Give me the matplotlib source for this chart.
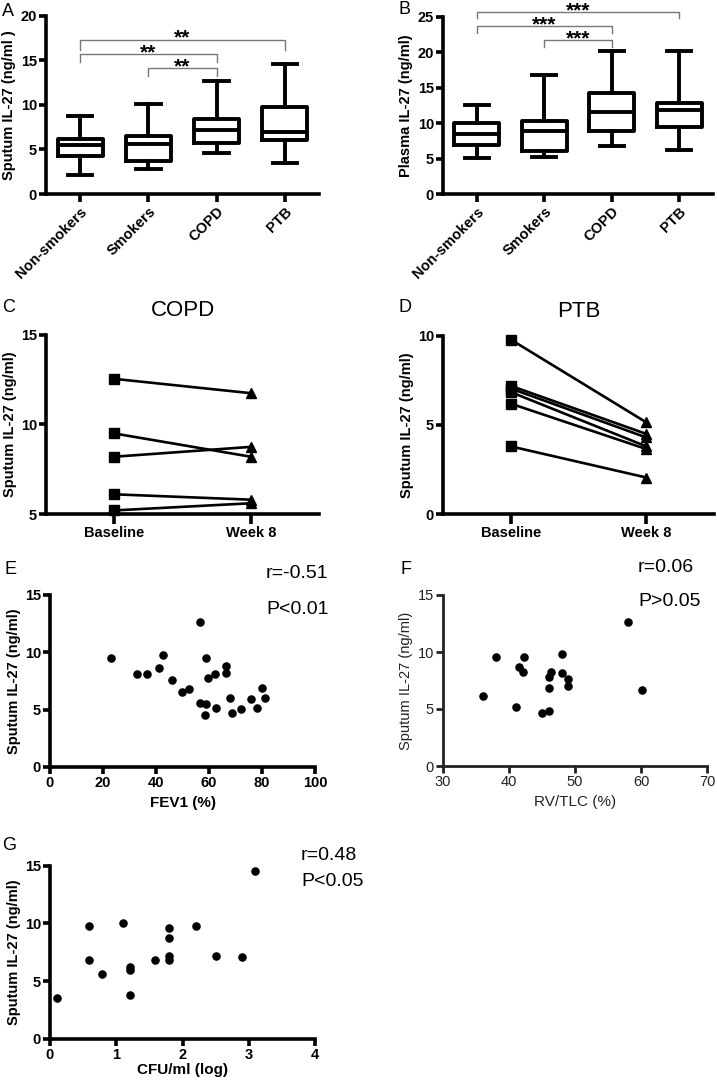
import matplotlib
matplotlib.use("Agg")
import matplotlib.pyplot as plt

plt.rcParams['font.family'] = ['Liberation Sans', 'DejaVu Sans']

# ---------------- data ----------------
groups = ["Non-smokers", "Smokers", "COPD", "PTB"]

# Panel A: sputum IL-27 box stats
a_whislo = [2.1, 2.8, 4.6, 3.5]
a_q1 = [4.3, 3.75, 5.7, 6.1]
a_med = [5.45, 5.6, 7.2, 7.0]
a_q3 = [6.15, 6.5, 8.45, 9.75]
a_whishi = [8.8, 10.1, 12.65, 14.6]

# Panel B: plasma IL-27 box stats
b_whislo = [5.1, 5.2, 6.8, 6.2]
b_q1 = [7.0, 6.15, 8.95, 9.5]
b_med = [8.55, 8.85, 11.6, 11.85]
b_q3 = [10.05, 10.35, 14.25, 12.9]
b_whishi = [12.6, 16.8, 20.15, 20.15]

# significance brackets (group index pairs, bar height, drop heights, label)
a_sig_pairs = [(0, 3), (0, 2), (1, 2)]
a_sig_y = [17.3, 15.7, 14.1]
a_sig_drop = [1.1, 0.85, 0.85]
a_sig_txt = ["**", "**", "**"]

b_sig_pairs = [(0, 3), (0, 2), (1, 2)]
b_sig_y = [25.65, 23.7, 21.7]
b_sig_drop = [0.9, 1.05, 0.95]
b_sig_txt = ["***", "***", "***"]

time_labels = ["Baseline", "Week 8"]
# Panel C: COPD baseline vs week 8
c_baseline = [12.55, 9.5, 8.2, 6.1, 5.2]
c_week8 = [11.75, 8.2, 8.75, 5.8, 5.6]
# Panel D: PTB baseline vs week 8
d_baseline = [9.8, 7.2, 7.05, 6.85, 6.2, 3.8]
d_week8 = [5.15, 4.5, 4.3, 3.8, 3.65, 2.05]

# Panel E: FEV1 vs sputum IL-27
e_x = [22.9, 32.7, 36.7, 41.1, 42.5, 46.0, 49.7, 52.5, 56.6, 56.6, 58.7, 58.7,
       58.5, 59.7, 62.3, 62.5, 66.5, 66.5, 67.9, 68.8, 72.0, 75.7, 78.0, 80.0, 81.2]
e_y = [9.5, 8.08, 8.14, 8.6, 9.8, 7.59, 6.54, 6.77, 12.62, 5.55, 9.5, 5.49,
       4.55, 7.79, 8.14, 5.15, 8.8, 8.2, 6.05, 4.74, 5.06, 5.9, 5.17, 6.89, 6.05]

# Panel F: RV/TLC vs sputum IL-27
f_x = [36.1, 38.0, 41.0, 41.5, 42.1, 42.2, 45.0, 46.1, 46.1, 46.1, 46.3,
       48.0, 48.0, 49.0, 49.0, 58.1, 60.1]
f_y = [6.16, 9.53, 5.2, 8.66, 8.26, 9.53, 4.62, 4.83, 6.83, 7.85, 8.23,
       9.85, 8.17, 7.67, 6.98, 12.62, 6.66]

# Panel G: CFU/ml (log) vs sputum IL-27
g_x = [0.10, 0.59, 0.59, 0.79, 1.10, 1.20, 1.20, 1.20, 1.59, 1.80, 1.80,
       1.80, 1.80, 2.20, 2.50, 2.90, 3.09]
g_y = [3.52, 9.81, 6.81, 5.6, 10.07, 6.2, 6.0, 3.81, 6.81, 9.58, 8.77,
       7.21, 6.81, 9.78, 7.21, 7.1, 14.57]

# ---------------- figure ----------------
W, H = 717, 1081
fig = plt.figure(figsize=(W / 100, H / 100), dpi=100)
FS = 10.5


def add_ax(l, r, t, b):
    return fig.add_axes([l / W, 1 - b / H, (r - l) / W, (b - t) / H])


def style(ax, lw=2.6, bold=True, color='black', fs=FS):
    for s in ['top', 'right']:
        ax.spines[s].set_visible(False)
    for s in ['left', 'bottom']:
        ax.spines[s].set_linewidth(lw)
        ax.spines[s].set_color(color)
    ax.tick_params(width=lw, length=5, color=color, labelsize=fs,
                   labelcolor=color, pad=1.5)
    for lab in ax.get_xticklabels() + ax.get_yticklabels():
        lab.set_fontweight('bold' if bold else 'normal')


def box_panel(ax, whislo, q1, med, q3, whishi, ylim, yticks, ylabel):
    stats = []
    for i in range(len(groups)):
        stats.append(dict(whislo=whislo[i], q1=q1[i], med=med[i], q3=q3[i],
                          whishi=whishi[i], fliers=[], label=groups[i]))
    lw = 2.8
    ax.bxp(stats, positions=range(1, len(groups) + 1), widths=0.66,
           showfliers=False,
           boxprops=dict(linewidth=lw, color='black'),
           medianprops=dict(linewidth=lw, color='black'),
           whiskerprops=dict(linewidth=lw, color='black'),
           capprops=dict(linewidth=lw, color='black'),
           capwidths=0.36)
    ax.set_xlim(0.5, 4.5)
    ax.set_ylim(*ylim)
    ax.set_yticks(yticks)
    ax.set_xticks(range(1, len(groups) + 1))
    ax.set_xticklabels(groups, rotation=45, ha='right', rotation_mode='anchor',
                       fontweight='bold', fontsize=FS)
    ax.set_ylabel(ylabel, fontweight='bold', fontsize=FS, labelpad=3)
    style(ax)
    ax.tick_params(axis='x', length=6)


def brackets(ax, pairs, ys, drops, txts, dy_txt):
    for (i, j), y, d, t in zip(pairs, ys, drops, txts):
        x1, x2 = i + 1, j + 1
        ax.plot([x1, x1, x2, x2], [y - d, y, y, y - d], color='#777777',
                lw=1.0, clip_on=False)
        ax.text((x1 + x2) / 2, y + dy_txt, t, ha='center', va='baseline',
                fontsize=15, fontweight='bold', clip_on=False)


# Panel A
axA = add_ax(46, 319, 15.7, 194)
box_panel(axA, a_whislo, a_q1, a_med, a_q3, a_whishi, (0, 20),
          [0, 5, 10, 15, 20], "Sputum IL-27 (ng/ml )")
brackets(axA, a_sig_pairs, a_sig_y, a_sig_drop, a_sig_txt, -0.45)
fig.text(2 / W, 1 - 11 / H, "A", fontsize=13, va='center', ha='left')

# Panel B
axB = add_ax(443, 713, 16.7, 194.3)
box_panel(axB, b_whislo, b_q1, b_med, b_q3, b_whishi, (0, 25),
          [0, 5, 10, 15, 20, 25], "Plasma IL-27 (ng/ml)")
brackets(axB, b_sig_pairs, b_sig_y, b_sig_drop, b_sig_txt, -0.56)
fig.text(399 / W, 1 - 9 / H, "B", fontsize=13, va='center', ha='left')


def paired_panel(ax, base, wk, ylim, yticks, title):
    for b0, w8 in zip(base, wk):
        ax.plot([0, 1], [b0, w8], color='black', lw=1.9, zorder=2)
        ax.plot([0], [b0], marker='s', ms=6.5, color='black', ls='none',
                zorder=3, clip_on=False)
        ax.plot([1], [w8], marker='^', ms=7, color='black', ls='none',
                zorder=3, clip_on=False)
    ax.set_xlim(-0.5, 1.5)
    ax.set_ylim(*ylim)
    ax.set_yticks(yticks)
    ax.set_xticks([0, 1])
    ax.set_xticklabels(time_labels, fontweight='bold', fontsize=FS)
    ax.set_ylabel("Sputum IL-27 (ng/ml)", fontweight='bold', fontsize=FS,
                  labelpad=3)
    style(ax)
    ax.tick_params(axis='x', length=7)
    ax.set_title(title, fontsize=16, pad=14)


# Panel C
axC = add_ax(46, 319, 335, 514)
paired_panel(axC, c_baseline, c_week8, (5, 15), [5, 10, 15], "COPD")
fig.text(2 / W, 1 - 307 / H, "C", fontsize=13, va='center', ha='left')

# Panel D
axD = add_ax(443, 714, 336, 514)
paired_panel(axD, d_baseline, d_week8, (0, 10), [0, 5, 10], "PTB")
fig.text(398 / W, 1 - 307 / H, "D", fontsize=13, va='center', ha='left')


def scatter_panel(ax, x, y, xlim, xticks, xlabel, bold=True, color='black',
                  lw=2.6, xpad=4):
    ax.scatter(x, y, s=38, color='black', zorder=3, clip_on=False,
               linewidths=0)
    ax.set_xlim(*xlim)
    ax.set_ylim(0, 15)
    ax.set_xticks(xticks)
    ax.set_yticks([0, 5, 10, 15])
    w = 'bold' if bold else 'normal'
    ax.set_xlabel(xlabel, fontweight=w, fontsize=FS + 0.5, color=color,
                  labelpad=xpad)
    ax.set_ylabel("Sputum IL-27 (ng/ml)", fontweight=w, fontsize=FS,
                  color=color, labelpad=3)
    style(ax, lw=lw, bold=bold, color=color)


# Panel E
axE = add_ax(50, 315, 595, 767)
scatter_panel(axE, e_x, e_y, (0, 100), [0, 20, 40, 60, 80, 100], "FEV1 (%)")
fig.text(4 / W, 1 - 570 / H, "E", fontsize=13, va='center', ha='left')
fig.text(266 / W, 1 - 574 / H, "r=-0.51", fontsize=14, va='center', ha='left')
fig.text(266 / W, 1 - 609 / H, "P<0.01", fontsize=14, va='center', ha='left')

# Panel F
axF = add_ax(443, 707, 595, 766)
scatter_panel(axF, f_x, f_y, (30, 70), [30, 40, 50, 60, 70], "RV/TLC (%)",
              bold=False, color='#222222', lw=2.0)
fig.text(401 / W, 1 - 570 / H, "F", fontsize=13, va='center', ha='left')
fig.text(638 / W, 1 - 567 / H, "r=0.06", fontsize=14, va='center', ha='left')
fig.text(638 / W, 1 - 602 / H, "P>0.05", fontsize=14, va='center', ha='left')

# Panel G
axG = add_ax(50, 315, 865.7, 1039)
scatter_panel(axG, g_x, g_y, (0, 4), [0, 1, 2, 3, 4], "CFU/ml (log)",
              xpad=1)
fig.text(2 / W, 1 - 845 / H, "G", fontsize=13, va='center', ha='left')
fig.text(301 / W, 1 - 856 / H, "r=0.48", fontsize=14, va='center', ha='left')
fig.text(301 / W, 1 - 881 / H, "P<0.05", fontsize=14, va='center', ha='left')

fig.savefig("out.png", dpi=100)
